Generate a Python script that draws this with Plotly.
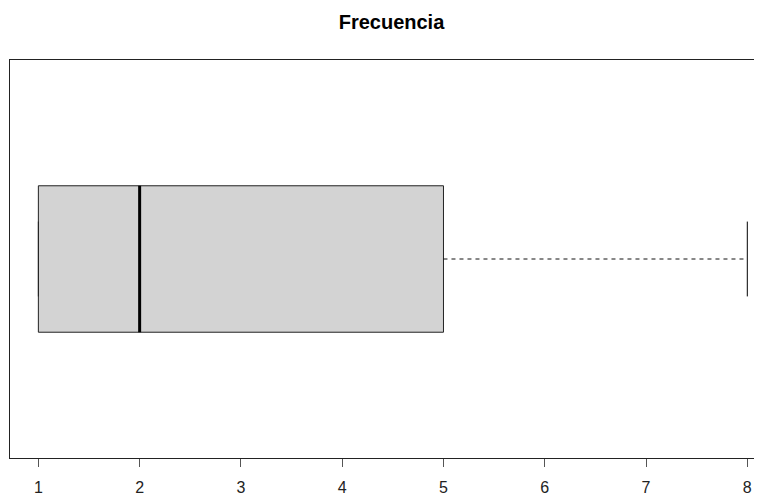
import plotly.graph_objects as go

# Five-number summary of "Frecuencia"
stat_names = ["min", "q1", "median", "q3", "max"]
stat_values = [1, 1, 2, 5, 8]
tick_values = [1, 2, 3, 4, 5, 6, 7, 8]
tick_labels = ["1", "2", "3", "4", "5", "6", "7", "8"]

s = dict(zip(stat_names, stat_values))

yc = 0.5          # box centre in the unit-height y axis
half_box = 0.184
half_cap = 0.094

fig = go.Figure()

# box (Q1 to Q3)
fig.add_trace(go.Scatter(
    x=[s["q1"], s["q3"], s["q3"], s["q1"], s["q1"]],
    y=[yc - half_box, yc - half_box, yc + half_box, yc + half_box, yc - half_box],
    mode="lines", fill="toself", fillcolor="#D3D3D3",
    line=dict(color="#222222", width=1), hoverinfo="skip", cliponaxis=False))

# whiskers (dashed)
fig.add_trace(go.Scatter(x=[s["q3"], s["max"]], y=[yc, yc], mode="lines",
                         line=dict(color="#111111", width=1, dash="4px,4px"), hoverinfo="skip"))
fig.add_trace(go.Scatter(x=[s["min"], s["q1"]], y=[yc, yc], mode="lines",
                         line=dict(color="#111111", width=1, dash="4px,4px"), hoverinfo="skip"))

# whisker caps
fig.add_trace(go.Scatter(x=[s["max"], s["max"]], y=[yc - half_cap, yc + half_cap], mode="lines",
                         line=dict(color="#000000", width=1), hoverinfo="skip"))
fig.add_trace(go.Scatter(x=[s["min"], s["min"]], y=[yc - half_cap, yc + half_cap], mode="lines",
                         line=dict(color="#222222", width=1), hoverinfo="skip"))

# median
fig.add_trace(go.Scatter(x=[s["median"], s["median"]], y=[yc - half_box, yc + half_box], mode="lines",
                         line=dict(color="#000000", width=3), hoverinfo="skip"))

# page body has an 8px margin, so the figure is shrunk and margins shifted by 8px
W, H = 754, 487
fig.update_layout(
    width=W, height=H,
    margin=dict(l=2, r=0, t=52, b=37),
    paper_bgcolor="white", plot_bgcolor="white",
    showlegend=False,
    font=dict(family="Liberation Sans, Arial, sans-serif", color="#222222"),
    title=dict(text="<b>Frecuencia</b>", x=383.5 / W, xanchor="center",
               y=1 - 14 / H, yanchor="middle",
               font=dict(size=20, color="#000000", family="Liberation Sans, Arial, sans-serif")),
    xaxis=dict(range=[0.72, 8.145], tickvals=tick_values, ticktext=tick_labels,
               showgrid=False, zeroline=False, showline=True, linecolor="#222222", linewidth=1,
               mirror=True, ticks="outside", ticklen=8, tickcolor="#555555", tickwidth=1,
               ticklabelstandoff=7,
               tickfont=dict(size=16, color="#222222")),
    yaxis=dict(range=[0, 1], showgrid=False, zeroline=False, showticklabels=False,
               showline=True, linecolor="#222222", linewidth=1, mirror=False, ticks=""),
)

fig.write_html("out.html")
